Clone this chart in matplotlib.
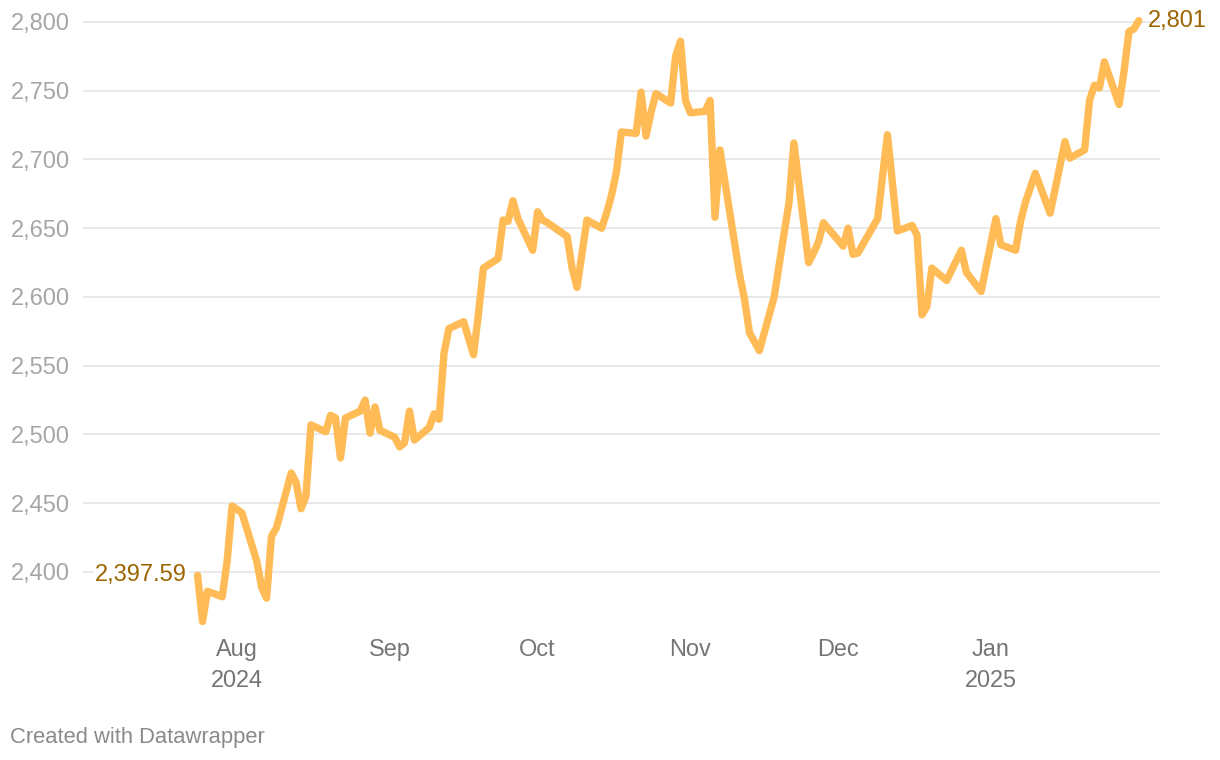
import matplotlib
matplotlib.use("Agg")
import matplotlib.pyplot as plt
import matplotlib.dates as mdates
import pandas as pd

# daily price readings, Jul 24 2024 - Jan 31 2025
dates = [
    "2024-07-24", "2024-07-25", "2024-07-26", "2024-07-29", "2024-07-30", "2024-07-31",
    "2024-08-02", "2024-08-05", "2024-08-06", "2024-08-07", "2024-08-08", "2024-08-09",
    "2024-08-12", "2024-08-13", "2024-08-14", "2024-08-15", "2024-08-16",
    "2024-08-19", "2024-08-20", "2024-08-21", "2024-08-22", "2024-08-23",
    "2024-08-26", "2024-08-27", "2024-08-28", "2024-08-29", "2024-08-30",
    "2024-09-02", "2024-09-03", "2024-09-04", "2024-09-05", "2024-09-06",
    "2024-09-09", "2024-09-10", "2024-09-11", "2024-09-12", "2024-09-13",
    "2024-09-16", "2024-09-18", "2024-09-19", "2024-09-20",
    "2024-09-23", "2024-09-24", "2024-09-25", "2024-09-26", "2024-09-27",
    "2024-09-30", "2024-10-01", "2024-10-02", "2024-10-03",
    "2024-10-07", "2024-10-08", "2024-10-09", "2024-10-11",
    "2024-10-14", "2024-10-15", "2024-10-16", "2024-10-17", "2024-10-18",
    "2024-10-21", "2024-10-22", "2024-10-23", "2024-10-24", "2024-10-25",
    "2024-10-28", "2024-10-29", "2024-10-30", "2024-10-31", "2024-11-01",
    "2024-11-04", "2024-11-05", "2024-11-06", "2024-11-07", "2024-11-08",
    "2024-11-11", "2024-11-12", "2024-11-13", "2024-11-15",
    "2024-11-18", "2024-11-20", "2024-11-21", "2024-11-22",
    "2024-11-25", "2024-11-26", "2024-11-27", "2024-11-28",
    "2024-12-02", "2024-12-03", "2024-12-04", "2024-12-05",
    "2024-12-09", "2024-12-10", "2024-12-11", "2024-12-13",
    "2024-12-16", "2024-12-17", "2024-12-18", "2024-12-19", "2024-12-20",
    "2024-12-23", "2024-12-26", "2024-12-27", "2024-12-30",
    "2025-01-02", "2025-01-03", "2025-01-06", "2025-01-07", "2025-01-08", "2025-01-10",
    "2025-01-13", "2025-01-14", "2025-01-16", "2025-01-17",
    "2025-01-20", "2025-01-21", "2025-01-22", "2025-01-23", "2025-01-24",
    "2025-01-27", "2025-01-28", "2025-01-29", "2025-01-30", "2025-01-31",
]
prices = [
    2397.59, 2364, 2386, 2382, 2408, 2448,
    2443, 2408, 2389, 2381, 2426, 2432,
    2472, 2465, 2446, 2455, 2507,
    2502, 2514, 2512, 2483, 2512,
    2517, 2525, 2501, 2520, 2503,
    2498, 2491, 2494, 2517, 2496,
    2505, 2515, 2511, 2559, 2577,
    2582, 2558, 2588, 2621,
    2628, 2656, 2655, 2670, 2657,
    2634, 2662, 2656, 2654,
    2644, 2621, 2607, 2656,
    2650, 2661, 2674, 2691, 2720,
    2719, 2749, 2717, 2734, 2748,
    2741, 2775, 2786, 2743, 2734,
    2735, 2743, 2658, 2707, 2684,
    2616, 2598, 2574, 2561,
    2600, 2646, 2668, 2712,
    2625, 2632, 2640, 2654,
    2637, 2650, 2631, 2632,
    2657, 2688, 2718, 2648,
    2652, 2645, 2587, 2593, 2621,
    2612, 2634, 2618, 2604,
    2657, 2638, 2634, 2655, 2669, 2690,
    2661, 2678, 2713, 2701,
    2707, 2743, 2754, 2752, 2771,
    2740, 2764, 2793, 2795, 2801,
]
y_ticks = [2400, 2450, 2500, 2550, 2600, 2650, 2700, 2750, 2800]
month_ticks = ["2024-08-01", "2024-09-01", "2024-10-01", "2024-11-01", "2024-12-01", "2025-01-01"]
month_labels = ["Aug\n2024", "Sep", "Oct", "Nov", "Dec", "Jan\n2025"]

plt.rcParams['font.family'] = ['Liberation Sans', 'DejaVu Sans']

x = pd.to_datetime(dates)

fig = plt.figure(figsize=(12.2, 7.6), dpi=100)
ax = fig.add_axes([83 / 1220, 128 / 760, (1160 - 83) / 1220, 620 / 760])

ax.plot(x, prices, color='#ffbb55', lw=5.3, solid_joinstyle='round',
        solid_capstyle='round', clip_on=False, zorder=3)

aug1 = mdates.date2num(pd.Timestamp("2024-08-01"))
ax.set_xlim(aug1 - 31.25, aug1 + 187.3)
ax.set_ylim(2356.36, 2807.27)

ax.set_yticks(y_ticks)
ax.set_yticklabels([f"{v:,}" for v in y_ticks])
ax.set_xticks(pd.to_datetime(month_ticks))
ax.set_xticklabels(month_labels, linespacing=1.45)

ax.grid(axis='y', color='#e3e3e3', lw=1.1)
ax.set_axisbelow(True)
for s in ax.spines.values():
    s.set_visible(False)
ax.tick_params(axis='y', length=0, pad=9.4, labelsize=17, labelcolor='#a6a6a6')
ax.tick_params(axis='x', length=0, pad=4, labelsize=16.9, labelcolor='#757575')

# start / end value labels
ax.text(x[0] - pd.Timedelta(days=2.1), prices[0], "2,397.59", ha='right', va='center',
        fontsize=17, color='#9c6500',
        bbox=dict(facecolor='white', edgecolor='none', pad=1))
ax.text(x[-1] + pd.Timedelta(days=1.8), prices[-1], f"{prices[-1]:,.0f}", ha='left',
        va='center', fontsize=17, color='#9c6500', clip_on=False)

fig.text(10 / 1220, 1 - 737 / 760, "Created with Datawrapper", ha='left', va='center',
         fontsize=15.8, color='#8a8a8a')

fig.savefig("out.png", dpi=100, facecolor='white')
